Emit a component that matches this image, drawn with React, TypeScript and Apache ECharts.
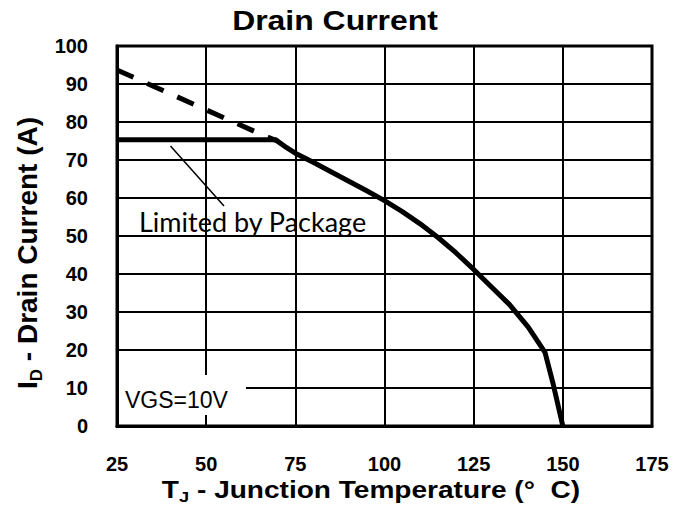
import React, { useEffect, useRef } from "react";
import * as echarts from "echarts";

// Tick values / axis ranges
const xTicks = [25, 50, 75, 100, 125, 150, 175];
const yTicks = [0, 10, 20, 30, 40, 50, 60, 70, 80, 90, 100];

// Solid curve: package-limited / derated drain current (Tj, Id)
const solidTemp = [25, 69.5, 72, 75, 80, 85, 90, 95, 100, 105, 110, 115, 120, 125, 130, 135, 140.3, 145, 147.3, 150];
const solidCurrent = [75.3, 75.3, 73.6, 71.8, 69.4, 66.9, 64.4, 61.9, 59.3, 56.4, 53.2, 49.6, 45.6, 41.2, 36.6, 32, 26, 19.4, 11, 0];

// Dashed curve: silicon limit above package limit
const dashTemp = [25, 50, 67, 70];
const dashCurrent = [93.7, 83.2, 76.1, 75];

// Leader line for the "Limited by Package" annotation
const leaderTemp = [40, 55];
const leaderCurrent = [73.7, 57.9];

const titleText = "Drain Current";
const noteText = "Limited by Package";
const vgsText = "VGS=10V";

export default function App() {
  const ref = useRef<HTMLDivElement>(null);

  useEffect(() => {
    if (!ref.current) return;
    const chart = echarts.init(ref.current, undefined, { renderer: "svg" });
    const boldFont = "'Liberation Sans', Arial, sans-serif";

    chart.setOption({
      animation: false,
      backgroundColor: "#ffffff",
      grid: {
        left: 117,
        top: 46,
        right: 34,
        bottom: 85,
        show: true,
        borderColor: "#000",
        borderWidth: 3,
      },
      xAxis: {
        type: "value",
        min: xTicks[0],
        max: xTicks[xTicks.length - 1],
        interval: 25,
        axisLine: { show: true, lineStyle: { color: "#000", width: 3 } },
        axisTick: { show: false },
        splitLine: { show: true, lineStyle: { color: "#000", width: 2 } },
        axisLabel: {
          margin: 28,
          color: "#000",
          fontSize: 20,
          fontWeight: "bold",
          fontFamily: boldFont,
        },
      },
      yAxis: {
        type: "value",
        min: yTicks[0],
        max: yTicks[yTicks.length - 1],
        interval: 10,
        axisLine: { show: true, lineStyle: { color: "#000", width: 3 } },
        axisTick: { show: false },
        splitLine: { show: true, lineStyle: { color: "#000", width: 2 } },
        axisLabel: {
          margin: 29,
          color: "#000",
          fontSize: 20,
          fontWeight: "bold",
          fontFamily: boldFont,
        },
      },
      series: [
        {
          type: "line",
          data: dashTemp.map((t, i) => [t, dashCurrent[i]]),
          showSymbol: false,
          lineStyle: { color: "#000", width: 5, type: [18, 15] },
          z: 3,
        },
        {
          type: "line",
          data: solidTemp.map((t, i) => [t, solidCurrent[i]]),
          showSymbol: false,
          lineStyle: { color: "#000", width: 5, join: "round" },
          z: 4,
        },
        {
          type: "line",
          data: leaderTemp.map((t, i) => [t, leaderCurrent[i]]),
          showSymbol: false,
          lineStyle: { color: "#000", width: 1.5 },
          z: 3,
        },
      ],
      graphic: [
        {
          type: "rect",
          shape: { x: 119, y: 375, width: 127, height: 40 },
          style: { fill: "#fff" },
          z: 10,
        },
        {
          type: "text",
          x: 125,
          y: 400,
          style: {
            text: vgsText,
            fill: "#000",
            font: "23px 'Liberation Sans', Arial, sans-serif",
            textAlign: "left",
            textVerticalAlign: "middle",
          },
          z: 11,
        },
        {
          type: "text",
          x: 139,
          y: 221,
          style: {
            text: noteText,
            fill: "#000",
            font: "27px Lato, 'Open Sans', sans-serif",
            textAlign: "left",
            textVerticalAlign: "middle",
          },
          z: 11,
        },
        {
          type: "text",
          x: 335,
          y: 20,
          scaleX: 1.14,
          style: {
            text: titleText,
            fill: "#000",
            font: "bold 28px 'Liberation Sans', Arial, sans-serif",
            textAlign: "center",
            textVerticalAlign: "middle",
          },
          z: 11,
        },
        {
          type: "text",
          x: 371,
          y: 490,
          scaleX: 1.22,
          style: {
            text: "{a|T}{s|J}{a| - Junction Temperature (°  C)}",
            textAlign: "center",
            textVerticalAlign: "middle",
            rich: {
              a: {
                fontSize: 23,
                fontWeight: "bold",
                fontFamily: boldFont,
                color: "#000",
                lineHeight: 30,
                verticalAlign: "middle",
              },
              s: {
                fontSize: 15,
                fontWeight: "bold",
                fontFamily: boldFont,
                color: "#000",
                lineHeight: 15,
                verticalAlign: "bottom",
              },
            },
          },
          z: 11,
        },
        {
          type: "text",
          x: 27,
          y: 253,
          rotation: Math.PI / 2,
          style: {
            text: "{a|I}{s|D}{a| - Drain Current (A)}",
            textAlign: "center",
            textVerticalAlign: "middle",
            rich: {
              a: {
                fontSize: 28,
                fontWeight: "bold",
                fontFamily: boldFont,
                color: "#000",
                lineHeight: 36,
                verticalAlign: "middle",
              },
              s: {
                fontSize: 17,
                fontWeight: "bold",
                fontFamily: boldFont,
                color: "#000",
                lineHeight: 17,
                verticalAlign: "bottom",
              },
            },
          },
          z: 11,
        },
      ],
    });

    return () => {
      chart.dispose();
    };
  }, []);

  return <div ref={ref} style={{ width: 686, height: 511, position: "absolute", left: 0, top: 0 }} />;
}
